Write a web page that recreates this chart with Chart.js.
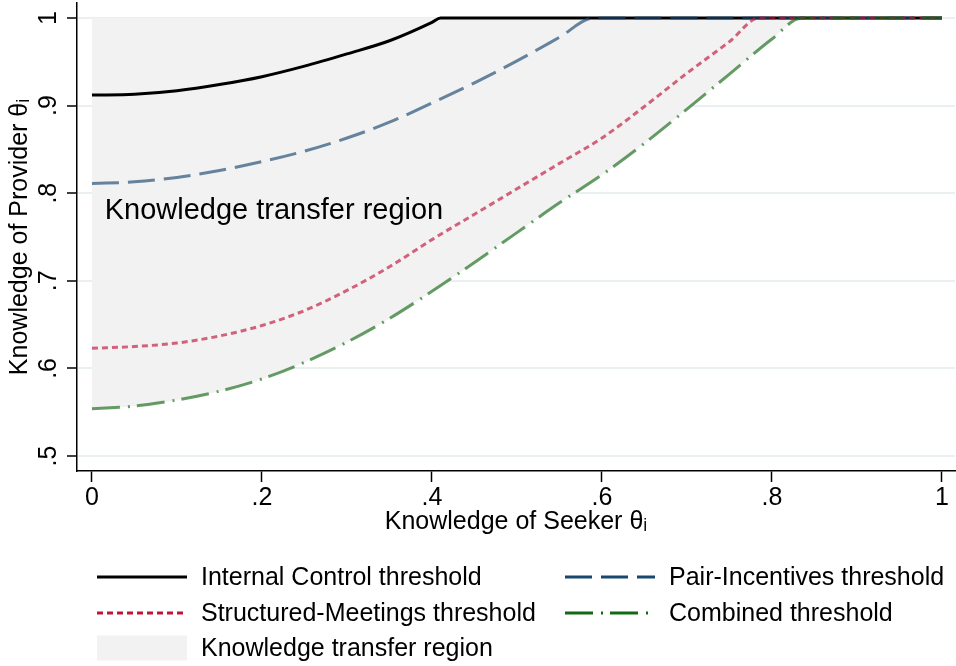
<!DOCTYPE html>
<html lang="en">
<head>
<meta charset="UTF-8">
<title>Knowledge transfer thresholds</title>
<style>
    body { margin: 0; background: #ffffff; }
    #wrap { width: 956px; height: 666px; }
</style>
</head>
<body>
<div id="wrap"><canvas id="thresholdChart" width="956" height="666"></canvas></div>
<script src="https://cdn.jsdelivr.net/npm/chart.js"></script>
<script>
    // seeker knowledge (x) and provider threshold (y), one pair of lists per policy
    var icX = [0, 0.05, 0.1, 0.15, 0.2, 0.25, 0.3, 0.35, 0.4, 0.41, 1];
    var icY = [0.912, 0.913, 0.917, 0.924, 0.933, 0.945, 0.959, 0.974, 0.995, 1, 1];

    var piX = [0, 0.05, 0.1, 0.15, 0.2, 0.25, 0.3, 0.35, 0.4, 0.45, 0.5, 0.55, 0.59, 1];
    var piY = [0.811, 0.813, 0.818, 0.826, 0.836, 0.848, 0.863, 0.881, 0.903, 0.926, 0.951, 0.978, 1, 1];

    var smX = [0, 0.05, 0.1, 0.15, 0.2, 0.25, 0.3, 0.35, 0.4, 0.45, 0.5, 0.55, 0.6, 0.65, 0.7, 0.75, 0.785, 1];
    var smY = [0.623, 0.625, 0.629, 0.637, 0.649, 0.666, 0.689, 0.716, 0.747, 0.776, 0.805, 0.834, 0.863, 0.899, 0.937, 0.973, 1, 1];

    var cbX = [0, 0.05, 0.1, 0.15, 0.2, 0.25, 0.3, 0.35, 0.4, 0.45, 0.5, 0.55, 0.6, 0.65, 0.7, 0.75, 0.8, 0.835, 1];
    var cbY = [0.554, 0.557, 0.564, 0.574, 0.588, 0.607, 0.630, 0.657, 0.688, 0.721, 0.755, 0.789, 0.821, 0.857, 0.896, 0.936, 0.976, 1, 1];

    var xTicks = [0, 0.2, 0.4, 0.6, 0.8, 1];
    var xTickLabels = ['0', '.2', '.4', '.6', '.8', '1'];
    var yTicks = [0.5, 0.6, 0.7, 0.8, 0.9, 1];
    var yTickLabels = ['.5', '.6', '.7', '.8', '.9', '1'];

    var seriesNames = ['Internal Control threshold', 'Pair-Incentives threshold', 'Structured-Meetings threshold', 'Combined threshold'];
    var regionName = 'Knowledge transfer region';

    var FONT = '"Liberation Sans", Arial, Helvetica, sans-serif';
    Chart.defaults.font.family = FONT;
    Chart.defaults.font.size = 25;
    Chart.defaults.color = '#000';

    function toPoints(xs, ys) {
        return xs.map(function (x, i) { return { x: x, y: ys[i] }; });
    }

    // same hue, see-through, for the curves inside the plot
    function fade(hex, a) {
        var n = parseInt(hex.slice(1), 16);
        return 'rgba(' + (n >> 16) + ',' + ((n >> 8) & 255) + ',' + (n & 255) + ',' + a + ')';
    }

    var lineBase = {
        pointRadius: 0,
        borderWidth: 3,
        borderCapStyle: 'butt',
        borderJoinStyle: 'round',
        cubicInterpolationMode: 'monotone',
        fill: false
    };

    var datasets = [
        Object.assign({}, lineBase, {
            label: seriesNames[0], data: toPoints(icX, icY),
            borderColor: '#000000', legendColor: '#000000', borderDash: [], order: 4
        }),
        Object.assign({}, lineBase, {
            label: seriesNames[1], data: toPoints(piX, piY),
            borderColor: fade('#1a476f', 0.65), legendColor: '#1a476f', borderDash: [27, 9], order: 3
        }),
        Object.assign({}, lineBase, {
            label: seriesNames[2], data: toPoints(smX, smY),
            borderColor: fade('#c0143c', 0.65), legendColor: '#c0143c', borderDash: [6, 4], order: 2
        }),
        Object.assign({}, lineBase, {
            label: seriesNames[3], data: toPoints(cbX, cbY),
            borderColor: fade('#146914', 0.65), legendColor: '#146914', borderDash: [28, 8, 2, 7], order: 1
        }),
        // shaded area between the combined threshold and 1
        Object.assign({}, lineBase, {
            label: regionName, data: toPoints(cbX, cbY),
            borderWidth: 0, borderColor: 'rgba(0,0,0,0)',
            backgroundColor: '#f2f2f2', legendColor: '#f2f2f2',
            fill: { value: 1 }, order: 5
        })
    ];

    // text placed inside the shaded area
    var regionText = { text: regionName, x: 0.015, y: 0.7705 };

    var regionLabel = {
        id: 'regionLabel',
        afterDatasetsDraw: function (chart) {
            var ctx = chart.ctx;
            ctx.save();
            ctx.font = '29px ' + FONT;
            ctx.fillStyle = '#000';
            ctx.textAlign = 'left';
            ctx.textBaseline = 'alphabetic';
            ctx.fillText(regionText.text,
                chart.scales.x.getPixelForValue(regionText.x),
                chart.scales.y.getPixelForValue(regionText.y));
            ctx.restore();
        }
    };

    // two-column key under the axis title
    var keyBelow = {
        id: 'keyBelow',
        afterDraw: function (chart) {
            var ctx = chart.ctx;
            var cells = [[0, 97, 577], [1, 565, 577], [2, 97, 613], [3, 565, 613], [4, 97, 648]];
            var sampleW = 90;
            ctx.save();
            cells.forEach(function (c) {
                var ds = chart.data.datasets[c[0]];
                var x = c[1], y = c[2];
                if (c[0] === 4) {
                    ctx.fillStyle = ds.legendColor;
                    ctx.fillRect(x, y - 12.5, sampleW, 25);
                } else {
                    ctx.beginPath();
                    ctx.setLineDash(ds.borderDash);
                    ctx.lineWidth = 3;
                    ctx.lineCap = 'butt';
                    ctx.strokeStyle = ds.legendColor;
                    ctx.moveTo(x, y);
                    ctx.lineTo(x + sampleW, y);
                    ctx.stroke();
                    ctx.setLineDash([]);
                }
                ctx.font = '25px ' + FONT;
                ctx.fillStyle = '#000';
                ctx.textAlign = 'left';
                ctx.textBaseline = 'middle';
                ctx.fillText(ds.label, x + sampleW + 14, y + 1);
            });
            ctx.restore();
        }
    };

    var chart = new Chart(document.getElementById('thresholdChart').getContext('2d'), {
        type: 'line',
        data: { datasets: datasets },
        plugins: [regionLabel, keyBelow],
        options: {
            responsive: false,
            animation: false,
            layout: { padding: { left: 0, top: 3, right: 1, bottom: 0 } },
            plugins: {
                legend: { display: false },
                tooltip: { enabled: false },
                filler: { drawTime: 'beforeDatasetsDraw' }
            },
            scales: {
                x: {
                    type: 'linear',
                    min: -0.0176,
                    max: 1.0153,
                    afterBuildTicks: function (scale) {
                        scale.ticks = xTicks.map(function (v) { return { value: v }; });
                    },
                    afterFit: function (scale) {
                        scale.height = 195;
                        scale.paddingLeft = 0;
                        scale.paddingRight = 0;
                    },
                    ticks: {
                        autoSkip: false, minRotation: 0, maxRotation: 0, padding: 1,
                        font: { size: 25 },
                        callback: function (v, i) { return xTickLabels[i]; }
                    },
                    grid: { drawOnChartArea: false, tickLength: 11, tickColor: '#000', tickWidth: 1.5 },
                    border: { color: '#000', width: 1.5 },
                    title: {
                        display: true, text: 'Knowledge of Seeker θᵢ',
                        font: { size: 25 }, padding: { top: 0, bottom: 129 }
                    }
                },
                y: {
                    type: 'linear',
                    min: 0.4829,
                    max: 1.0171,
                    afterBuildTicks: function (scale) {
                        scale.ticks = yTicks.map(function (v) { return { value: v }; });
                    },
                    afterFit: function (scale) {
                        scale.width = 77;
                        scale.paddingTop = 0;
                        scale.paddingBottom = 0;
                    },
                    ticks: {
                        autoSkip: false, minRotation: 90, maxRotation: 90, crossAlign: 'center', padding: 7,
                        font: { size: 25 },
                        callback: function (v, i) { return yTickLabels[i]; }
                    },
                    grid: { color: '#eaf0f2', lineWidth: 2, tickLength: 10, tickColor: '#000', tickWidth: 1.5 },
                    border: { color: '#000', width: 1.5 },
                    title: {
                        display: true, text: 'Knowledge of Provider θᵢ',
                        font: { size: 25 }, padding: { top: 5, bottom: 0 }
                    }
                }
            }
        }
    });
</script>
</body>
</html>
